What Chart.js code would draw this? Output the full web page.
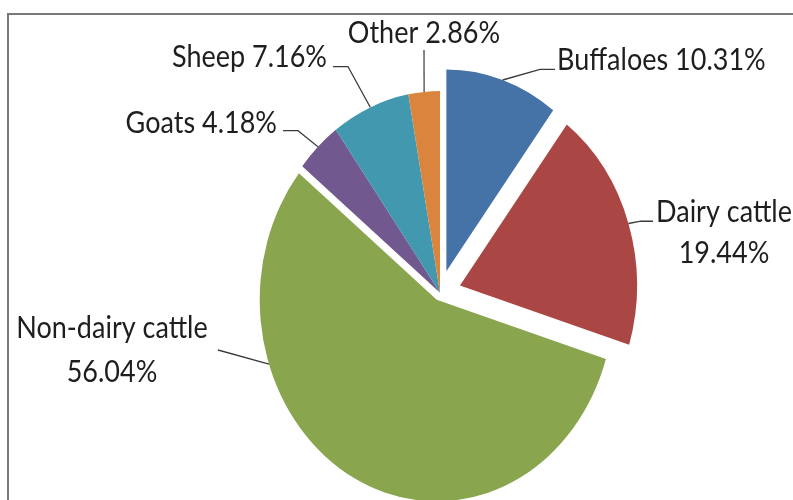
<!DOCTYPE html>
<html>
<head>
<meta charset="utf-8">
<script src="https://cdn.jsdelivr.net/npm/chart.js@4.4.1/dist/chart.umd.min.js"></script>
<style>
  html, body { margin: 0; padding: 0; background: #fff; overflow: hidden; }
  #wrap { position: relative; width: 793px; height: 500px; }
  #frame { position: absolute; left: 7px; top: 13px; width: 900px; height: 600px; border: 2px solid #7a7a7a; }
  #pie { position: absolute; left: 0; top: 0; }
</style>
</head>
<body>
<div id="wrap">
  <div id="frame"></div>
  <canvas id="pie" width="793" height="500"></canvas>
</div>
<script>
const categories = ['Buffaloes', 'Dairy cattle', 'Non-dairy cattle', 'Goats', 'Sheep', 'Other'];
const shares = [10.31, 19.44, 56.04, 4.18, 7.16, 2.86];
const sliceColors = ['#4572a7', '#aa4643', '#89a54e', '#71588f', '#4198af', '#db843d'];
const explode = [20, 21, 7, 0, 0, 0];

// picture is stretched vertically (the original image was resized)
const stretchY = 1.139;

// label placement, in unstretched pixels
const labelLayout = [
  { align: 'left',   x: 557, y: [61.5],         end: [555, 60.9],  elbow: [540, 60.9],  at: 0.5 },
  { align: 'center', x: 724, y: [194.6, 231.2], end: [653, 194.2], elbow: [641, 194.2], at: 0.5 },
  { align: 'center', x: 112, y: [297, 335.1],   end: [218, 307.3], elbow: null,         at: 0.715 },
  { align: 'right',  x: 277, y: [117],          end: [283, 114.7], elbow: [298, 114.7], at: 0.5 },
  { align: 'right',  x: 327, y: [58.5],         end: [333, 58.5],  elbow: [348, 58.5],  at: 0.5 },
  { align: 'center', x: 424, y: [37.8],         end: [424, 43.9],  elbow: null,         at: 0.5 }
];

function labelLines(i) {
  const pct = shares[i].toFixed(2) + '%';
  const lay = labelLayout[i];
  return lay.y.length > 1 ? [categories[i], pct] : [categories[i] + ' ' + pct];
}

const stretchPlugin = {
  id: 'stretch',
  beforeDraw(chart) { chart.ctx.save(); chart.ctx.scale(1, stretchY); },
  afterDraw(chart) { chart.ctx.restore(); }
};

const explodePlugin = {
  id: 'explode',
  afterDatasetUpdate(chart, args) {
    const arcs = chart.getDatasetMeta(args.index).data;
    arcs.forEach((arc, i) => {
      const mid = (arc.startAngle + arc.endAngle) / 2;
      arc.x += Math.cos(mid) * explode[i];
      arc.y += Math.sin(mid) * explode[i];
    });
  }
};

const labelPlugin = {
  id: 'labels',
  afterDatasetsDraw(chart) {
    const ctx = chart.ctx;
    const arcs = chart.getDatasetMeta(0).data;
    ctx.save();
    ctx.strokeStyle = '#3a3a3a';
    ctx.lineWidth = 1.2;
    ctx.fillStyle = '#1e1e1e';
    ctx.font = '27px Lato';
    ctx.textBaseline = 'alphabetic';
    arcs.forEach((arc, i) => {
      const lay = labelLayout[i];
      const a = arc.startAngle + (arc.endAngle - arc.startAngle) * lay.at;
      const px = arc.x + Math.cos(a) * arc.outerRadius;
      const py = arc.y + Math.sin(a) * arc.outerRadius;
      ctx.beginPath();
      ctx.moveTo(px, py);
      if (lay.elbow) ctx.lineTo(lay.elbow[0], lay.elbow[1]);
      ctx.lineTo(lay.end[0], lay.end[1]);
      ctx.stroke();
      ctx.textAlign = lay.align;
      labelLines(i).forEach((t, k) => ctx.fillText(t, lay.x, lay.y[k]));
    });
    ctx.restore();
  }
};

new Chart(document.getElementById('pie'), {
  type: 'pie',
  data: {
    labels: categories,
    datasets: [{
      data: shares,
      backgroundColor: sliceColors,
      borderWidth: 0,
      clip: false
    }]
  },
  options: {
    responsive: false,
    animation: false,
    radius: 177,
    layout: { padding: { left: 87, right: 0, top: 14, bottom: 0 } },
    plugins: {
      legend: { display: false },
      tooltip: { enabled: false }
    }
  },
  plugins: [stretchPlugin, explodePlugin, labelPlugin]
});
</script>
</body>
</html>
